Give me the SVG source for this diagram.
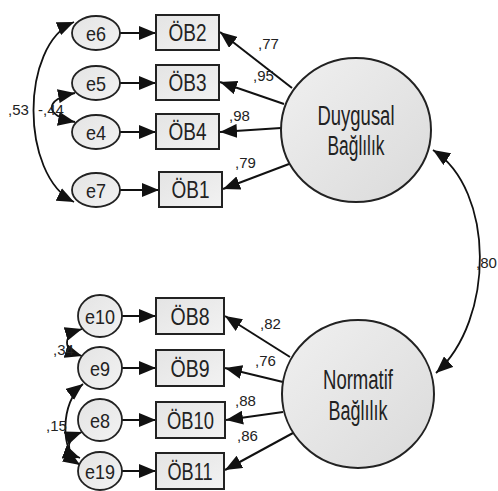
<svg xmlns="http://www.w3.org/2000/svg" width="498" height="491" viewBox="0 0 498 491">
  <defs>
    <linearGradient id="fillSmall" x1="0" y1="0" x2="1" y2="1">
      <stop offset="0" stop-color="#e4e4e4"/>
      <stop offset="1" stop-color="#f2f2f2"/>
    </linearGradient>
    <linearGradient id="fillLatent" x1="0" y1="0" x2="1" y2="1">
      <stop offset="0" stop-color="#f0f0f0"/>
      <stop offset="1" stop-color="#dadada"/>
    </linearGradient>
    <marker id="ah" viewBox="0 0 17 14" refX="17" refY="7" markerWidth="17" markerHeight="14" markerUnits="userSpaceOnUse" orient="auto-start-reverse">
      <path d="M0,0 L17,7 L0,14 Z" fill="#111"/>
    </marker>
    <style>
      .err { fill: url(#fillSmall); stroke: #222; stroke-width: 1.8; }
      .obs { fill: url(#fillSmall); stroke: #222; stroke-width: 2; }
      .lat { fill: url(#fillLatent); stroke: #222; stroke-width: 2; }
      .lbl { font-family: "Liberation Sans", Arial, sans-serif; fill: #222; text-anchor: middle; }
      .el { font-size: 21px; }
      .ol { font-size: 23px; }
      .ll { font-size: 27px; }
      .num { font-family: "Liberation Sans", Arial, sans-serif; font-size: 15px; fill: #222; }
      .ln { fill: none; stroke: #111; stroke-width: 2; marker-end: url(#ah); }
      .cv { fill: none; stroke: #111; stroke-width: 1.8; marker-start: url(#ah); marker-end: url(#ah); }
    </style>
  </defs>

  <g id="connectors">
    <!-- error terms to indicators -->
    <line class="ln" x1="120" y1="33" x2="156" y2="33"/>
    <line class="ln" x1="120" y1="83" x2="156" y2="83"/>
    <line class="ln" x1="120" y1="132" x2="156" y2="132"/>
    <line class="ln" x1="120" y1="190" x2="159" y2="190"/>
    <line class="ln" x1="122" y1="316" x2="156" y2="316"/>
    <line class="ln" x1="122" y1="368" x2="156" y2="368"/>
    <line class="ln" x1="122" y1="420" x2="156" y2="420"/>
    <line class="ln" x1="122" y1="471" x2="156" y2="471"/>

    <!-- loadings: Duygusal Bağlılık -->
    <line class="ln" x1="292" y1="88" x2="220" y2="32"/>
    <line class="ln" x1="284" y1="104" x2="220" y2="82"/>
    <line class="ln" x1="281" y1="128" x2="220" y2="132"/>
    <line class="ln" x1="289" y1="164" x2="223" y2="189"/>

    <!-- loadings: Normatif Bağlılık -->
    <line class="ln" x1="290" y1="357" x2="225" y2="316"/>
    <line class="ln" x1="283" y1="382" x2="225" y2="368"/>
    <line class="ln" x1="283" y1="412" x2="226" y2="420"/>
    <line class="ln" x1="293" y1="433" x2="225" y2="470"/>

    <!-- covariances -->
    <path class="cv" d="M74,22 C20,45 20,175 74,202"/>
    <path class="cv" d="M75,93 C44,99 44,116 75,122"/>
    <path class="cv" d="M82,329 C62,335 62,350 82,356"/>
    <path class="cv" d="M83,384 C60,402 60,452 80,465"/>
    <path class="cv" d="M82,432 C66,438 64,452 80,458"/>
    <path class="cv" d="M433,150 C495,190 495,320 436,373"/>

    <!-- estimates -->
    <text class="num" x="258" y="49">,77</text>
    <text class="num" x="253" y="81">,95</text>
    <text class="num" x="229" y="121">,98</text>
    <text class="num" x="235" y="168">,79</text>
    <text class="num" x="8" y="115">,53</text>
    <text class="num" x="38" y="115">-,44</text>
    <text class="num" x="476" y="268">,80</text>
    <text class="num" x="260" y="329">,82</text>
    <text class="num" x="255" y="366">,76</text>
    <text class="num" x="235" y="406">,88</text>
    <text class="num" x="237" y="441">,86</text>
    <text class="num" x="53" y="355">,34</text>
    <text class="num" x="46" y="431">,15</text>
  </g>

  <!-- Duygusal Bağlılık block -->
  <g id="e6"><ellipse class="err" cx="96" cy="33" rx="24" ry="17"/><text class="lbl el" x="96" y="40.5" textLength="20" lengthAdjust="spacingAndGlyphs">e6</text></g>
  <g id="e5"><ellipse class="err" cx="96" cy="83" rx="24" ry="17"/><text class="lbl el" x="96" y="90.5" textLength="20" lengthAdjust="spacingAndGlyphs">e5</text></g>
  <g id="e4"><ellipse class="err" cx="96" cy="132" rx="24" ry="17"/><text class="lbl el" x="96" y="139.5" textLength="20" lengthAdjust="spacingAndGlyphs">e4</text></g>
  <g id="e7"><ellipse class="err" cx="96" cy="190" rx="24" ry="17"/><text class="lbl el" x="96" y="197.5" textLength="20" lengthAdjust="spacingAndGlyphs">e7</text></g>

  <g id="OB2"><rect class="obs" x="156" y="15" width="63" height="35"/><text class="lbl ol" x="187.5" y="40.5" textLength="38" lengthAdjust="spacingAndGlyphs">ÖB2</text></g>
  <g id="OB3"><rect class="obs" x="156" y="65" width="63" height="35"/><text class="lbl ol" x="187.5" y="90.5" textLength="38" lengthAdjust="spacingAndGlyphs">ÖB3</text></g>
  <g id="OB4"><rect class="obs" x="156" y="114" width="63" height="35"/><text class="lbl ol" x="187.5" y="139.5" textLength="38" lengthAdjust="spacingAndGlyphs">ÖB4</text></g>
  <g id="OB1"><rect class="obs" x="159" y="172" width="63" height="35"/><text class="lbl ol" x="190.5" y="197.5" textLength="38" lengthAdjust="spacingAndGlyphs">ÖB1</text></g>

  <g id="duygusal">
    <ellipse class="lat" cx="356" cy="130" rx="75" ry="72"/>
    <text class="lbl ll" x="356" y="125" textLength="77" lengthAdjust="spacingAndGlyphs">Duygusal</text>
    <text class="lbl ll" x="356" y="155" textLength="57" lengthAdjust="spacingAndGlyphs">Bağlılık</text>
  </g>

  <!-- Normatif Bağlılık block -->
  <g id="e10"><ellipse class="err" cx="100" cy="316" rx="22" ry="21"/><text class="lbl el" x="100" y="323.5" textLength="30" lengthAdjust="spacingAndGlyphs">e10</text></g>
  <g id="e9"><ellipse class="err" cx="100" cy="368" rx="22" ry="21"/><text class="lbl el" x="100" y="375.5" textLength="20" lengthAdjust="spacingAndGlyphs">e9</text></g>
  <g id="e8"><ellipse class="err" cx="100" cy="420" rx="22" ry="21"/><text class="lbl el" x="100" y="427.5" textLength="20" lengthAdjust="spacingAndGlyphs">e8</text></g>
  <g id="e19"><ellipse class="err" cx="100" cy="471" rx="22" ry="19"/><text class="lbl el" x="100" y="478.5" textLength="30" lengthAdjust="spacingAndGlyphs">e19</text></g>

  <g id="OB8"><rect class="obs" x="156" y="298" width="68" height="36"/><text class="lbl ol" x="190" y="324.5" textLength="39" lengthAdjust="spacingAndGlyphs">ÖB8</text></g>
  <g id="OB9"><rect class="obs" x="156" y="350" width="68" height="36"/><text class="lbl ol" x="190" y="376.5" textLength="39" lengthAdjust="spacingAndGlyphs">ÖB9</text></g>
  <g id="OB10"><rect class="obs" x="156" y="402" width="69" height="36"/><text class="lbl ol" x="190.5" y="428.5" textLength="47" lengthAdjust="spacingAndGlyphs">ÖB10</text></g>
  <g id="OB11"><rect class="obs" x="156" y="453" width="68" height="36"/><text class="lbl ol" x="190" y="479.5" textLength="45" lengthAdjust="spacingAndGlyphs">ÖB11</text></g>

  <g id="normatif">
    <ellipse class="lat" cx="358" cy="394" rx="76" ry="74"/>
    <text class="lbl ll" x="358" y="389" textLength="70" lengthAdjust="spacingAndGlyphs">Normatif</text>
    <text class="lbl ll" x="358" y="420" textLength="59" lengthAdjust="spacingAndGlyphs">Bağlılık</text>
  </g>
</svg>
